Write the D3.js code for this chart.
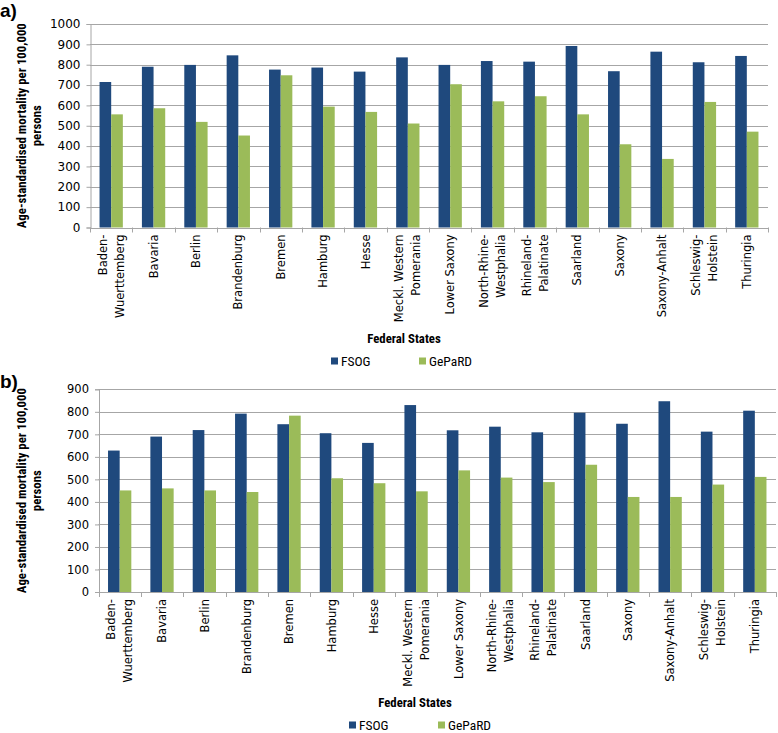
<!DOCTYPE html>
<html>
<head>
<meta charset="utf-8">
<script src="https://cdn.jsdelivr.net/npm/d3@7"></script>
<style>
  body { margin: 0; background: #fff; }
  svg { display: block; }
</style>
</head>
<body>
<svg id="chart" width="778" height="733"></svg>
<script>
// ---- Data ----
const categories = [
  "Baden-\nWuerttemberg", "Bavaria", "Berlin", "Brandenburg", "Bremen", "Hamburg", "Hesse",
  "Meckl. Western\nPomerania", "Lower Saxony", "North-Rhine-\nWestphalia", "Rhineland-\nPalatinate",
  "Saarland", "Saxony", "Saxony-Anhalt", "Schleswig-\nHolstein", "Thuringia"
];
const seriesNames = ["FSOG", "GePaRD"];
const fsogA   = [715, 790, 799, 846, 776, 786, 766, 836, 799, 818, 815, 892, 768, 864, 812, 843];
const geopardA = [556, 586, 519, 452, 748, 594, 568, 511, 704, 620, 645, 556, 409, 337, 617, 471];
const fsogB   = [628, 690, 719, 792, 745, 705, 662, 830, 718, 734, 709, 796, 747, 847, 712, 805];
const geopardB = [451, 460, 451, 444, 783, 505, 483, 447, 540, 508, 488, 565, 422, 422, 477, 511];
const ticksA = [0, 100, 200, 300, 400, 500, 600, 700, 800, 900, 1000];
const ticksB = [0, 100, 200, 300, 400, 500, 600, 700, 800, 900];
const colors = ["#1F497D", "#9BBB59"];

const svg = d3.select("#chart");
const narrow = "Liberation Sans Narrow, Roboto Condensed, Liberation Sans, Arial, sans-serif";

function drawPanel(cfg) {
  const g = svg.append("g");
  const x = d3.scaleBand().domain(categories).range([cfg.left, cfg.right]).paddingInner(0.45).paddingOuter(0.225);
  const xc = d3.scaleBand().domain(categories).range([cfg.left, cfg.right]);
  const y = d3.scaleLinear().domain([0, cfg.max]).range([cfg.bottom, cfg.top]);
  const sub = d3.scaleBand().domain(seriesNames).range([0, x.bandwidth()]);

  // gridlines
  g.append("g").selectAll("line").data(cfg.ticks.filter(d => d > 0)).join("line")
    .attr("x1", cfg.left).attr("x2", cfg.right)
    .attr("y1", d => Math.round(y(d)) + 0.5).attr("y2", d => Math.round(y(d)) + 0.5)
    .attr("stroke", "#a6a6a6").attr("stroke-width", 1);

  // y axis
  const ya = d3.axisLeft(y).tickValues(cfg.ticks).tickFormat(d3.format("d")).tickSize(4).tickPadding(6);
  const yg = g.append("g").attr("transform", `translate(${cfg.left + 0.5},0)`).call(ya);
  yg.select(".domain").attr("stroke", "#a6a6a6");
  yg.selectAll(".tick line").attr("stroke", "#a6a6a6");
  yg.selectAll(".tick text").attr("font-family", "DejaVu Sans, Verdana, sans-serif")
    .attr("font-size", cfg.tickFont).attr("fill", "#000");

  // bars
  const data = categories.map((c, i) => ({ c, vals: [cfg.s1[i], cfg.s2[i]] }));
  const grp = g.append("g").selectAll("g").data(data).join("g")
    .attr("transform", d => `translate(${x(d.c)},0)`);
  grp.selectAll("rect").data(d => d.vals.map((v, k) => ({ v, k }))).join("rect")
    .attr("x", d => sub(seriesNames[d.k]))
    .attr("width", sub.bandwidth())
    .attr("y", d => y(d.v))
    .attr("height", d => y(0) - y(d.v))
    .attr("fill", d => colors[d.k]);

  // x axis line and tick marks at category boundaries
  g.append("line").attr("x1", cfg.left).attr("x2", cfg.right)
    .attr("y1", Math.round(y(0)) + 0.5).attr("y2", Math.round(y(0)) + 0.5)
    .attr("stroke", "#a6a6a6");
  const bounds = categories.map(c => xc(c)).concat([cfg.right]);
  g.append("g").selectAll("line").data(bounds).join("line")
    .attr("x1", d => Math.round(d) + 0.5).attr("x2", d => Math.round(d) + 0.5)
    .attr("y1", y(0)).attr("y2", y(0) + 5)
    .attr("stroke", "#a6a6a6");

  // category labels
  const lab = g.append("g").selectAll("text").data(categories).join("text")
    .attr("transform", c => `translate(${xc(c) + xc.bandwidth() / 2},${y(0) + 7}) rotate(-90)`)
    .attr("text-anchor", "end")
    .attr("font-family", "DejaVu Sans, Verdana, sans-serif")
    .attr("font-size", 11.5).attr("fill", "#000");
  lab.each(function (c) {
    const lines = c.split("\n");
    const n = lines.length;
    d3.select(this).selectAll("tspan").data(lines).join("tspan")
      .attr("x", 0)
      .attr("y", (l, i) => (i - (n - 1) / 2) * 17)
      .attr("dy", "0.36em")
      .text(l => l);
  });

  // y axis title
  const ty = svg.append("text")
    .attr("transform", `translate(${cfg.titleX},${(cfg.top + cfg.bottom) / 2}) rotate(-90)`)
    .attr("text-anchor", "middle")
    .attr("font-family", narrow)
    .attr("font-weight", "bold")
    .attr("font-size", 12.8).attr("fill", "#000");
  ty.append("tspan").attr("x", 0).attr("y", 0).attr("dy", "0.35em").text("Age-standardised mortality per 100,000");
  ty.append("tspan").attr("x", 0).attr("y", 15).attr("dy", "0.35em").text("persons");

  // x axis title
  svg.append("text").attr("x", cfg.xTitleX).attr("y", cfg.xTitleY)
    .attr("text-anchor", "middle").attr("dy", "0.35em")
    .attr("font-family", narrow)
    .attr("font-weight", "bold").attr("font-size", 12.8).attr("fill", "#000")
    .text("Federal States");

  // legend
  const lg = svg.append("g").selectAll("g").data(seriesNames).join("g")
    .attr("transform", (d, i) => `translate(${cfg.legX[i]},${cfg.legY})`);
  lg.append("rect").attr("x", 0).attr("y", -3.5).attr("width", 7).attr("height", 7)
    .attr("fill", (d, i) => colors[i]);
  lg.append("text").attr("x", 10).attr("y", 0).attr("dy", "0.35em")
    .attr("font-family", narrow)
    .attr("font-size", 13.5).attr("fill", "#000").text(d => d);

  // panel label
  svg.append("text").attr("x", 0).attr("y", cfg.panelY)
    .attr("font-family", "Liberation Sans, Arial, sans-serif")
    .attr("font-weight", "bold").attr("font-size", 19).attr("fill", "#000")
    .text(cfg.panel);
}

drawPanel({
  panel: "a)", panelY: 17,
  left: 90, right: 768, top: 24, bottom: 227.5, max: 1000, ticks: ticksA, tickFont: 12,
  s1: fsogA, s2: geopardA,
  titleX: 22, xTitleX: 404, xTitleY: 339,
  legX: [331, 419], legY: 361
});

drawPanel({
  panel: "b)", panelY: 388,
  left: 98.5, right: 776, top: 389.3, bottom: 592, max: 900, ticks: ticksB, tickFont: 11.5,
  s1: fsogB, s2: geopardB,
  titleX: 22, xTitleX: 415, xTitleY: 703,
  legX: [349, 438], legY: 725
});
</script>
</body>
</html>
